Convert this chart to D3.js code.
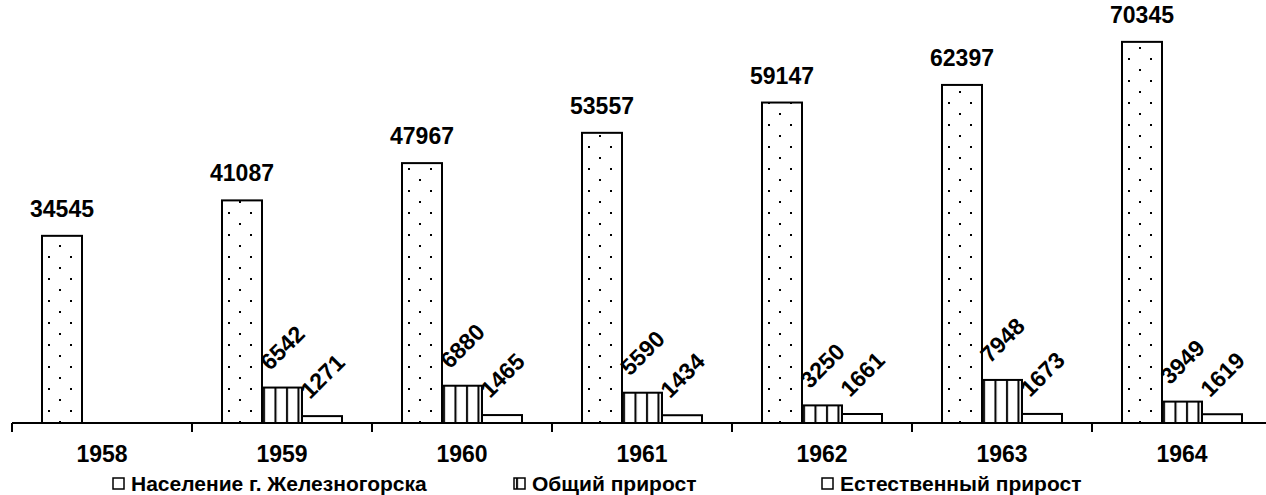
<!DOCTYPE html>
<html>
<head>
<meta charset="utf-8">
<script src="https://cdn.jsdelivr.net/npm/d3@7"></script>
<style>
  body { margin: 0; background: #fff; }
  text { font-family: "Liberation Sans", Arial, sans-serif; font-weight: bold; fill: #000; }
</style>
</head>
<body>
<div id="chartArea"></div>
<script>
// data setup
var years = ["1958", "1959", "1960", "1961", "1962", "1963", "1964"];
var population = [34545, 41087, 47967, 53557, 59147, 62397, 70345];
var totalGrowth = [null, 6542, 6880, 5590, 3250, 7948, 3949];
var naturalGrowth = [null, 1271, 1465, 1434, 1661, 1673, 1619];
var seriesNames = ["Население г. Железногорска", "Общий прирост", "Естественный прирост"];

var width = 1266, height = 495;
var baseY = 423;

var svg = d3.select("#chartArea").append("svg")
  .attr("width", width)
  .attr("height", height);

// patterns
var defs = svg.append("defs");
var dots = defs.append("pattern")
  .attr("id", "dots")
  .attr("patternUnits", "userSpaceOnUse")
  .attr("width", 22).attr("height", 22);
dots.append("rect").attr("width", 22).attr("height", 22).attr("fill", "#fff");
dots.append("rect").attr("x", 3).attr("y", 3).attr("width", 2).attr("height", 2).attr("fill", "#000");
dots.append("rect").attr("x", 14).attr("y", 14).attr("width", 2).attr("height", 2).attr("fill", "#000");

var vlines = defs.append("pattern")
  .attr("id", "vlines")
  .attr("patternUnits", "userSpaceOnUse")
  .attr("width", 11.5).attr("height", 10);
vlines.append("rect").attr("width", 11.5).attr("height", 10).attr("fill", "#fff");
vlines.append("rect").attr("x", 2).attr("width", 2).attr("height", 10).attr("fill", "#000");

var fills = ["url(#dots)", "url(#vlines)", "#fff"];

// scales
var x = d3.scaleBand().domain(years).range([12, 12 + 7 * 180]);
var xs = d3.scaleBand().domain([0, 1, 2]).range([30, 150]);
var y = d3.scaleLinear().domain([0, 80000]).range([baseY, baseY - 80000 * 0.005418]);

var rows = years.map(function(yr, i) {
  return { year: yr, vals: [population[i], totalGrowth[i], naturalGrowth[i]] };
});

var groups = svg.selectAll("g.cat")
  .data(rows)
  .enter().append("g")
  .attr("class", "cat")
  .attr("transform", function(d) { return "translate(" + x(d.year) + ",0)"; });

var bars = groups.selectAll("g.bar")
  .data(function(d) {
    return d.vals.map(function(v, k) { return { k: k, v: v }; }).filter(function(e) { return e.v != null; });
  })
  .enter().append("g").attr("class", "bar");

bars.append("rect")
  .attr("x", function(d) { return xs(d.k); })
  .attr("y", function(d) { return y(d.v); })
  .attr("width", xs.bandwidth())
  .attr("height", function(d) { return baseY - y(d.v); })
  .attr("fill", function(d) { return fills[d.k]; })
  .attr("stroke", "#000")
  .attr("stroke-width", 2);

// labels
bars.append("text")
  .attr("font-size", 23)
  .attr("text-anchor", function(d) { return d.k === 0 ? "middle" : "start"; })
  .attr("transform", function(d) {
    if (d.k === 0) {
      return "translate(" + (xs(d.k) + xs.bandwidth() / 2) + "," + (y(d.v) - 19) + ")";
    }
    return "translate(" + (xs(d.k) + 8) + "," + (y(d.v) - 16) + ") rotate(-45)";
  })
  .text(function(d) { return d.v; });

// x axis
var axis = svg.append("g").attr("transform", "translate(0," + baseY + ")");
axis.append("line")
  .attr("x1", 12).attr("x2", width)
  .attr("stroke", "#000").attr("stroke-width", 2);
axis.selectAll("line.tick")
  .data(years.concat(["end"]))
  .enter().append("line")
  .attr("class", "tick")
  .attr("x1", function(d, i) { return 12 + i * x.step(); })
  .attr("x2", function(d, i) { return 12 + i * x.step(); })
  .attr("y1", 0).attr("y2", 9)
  .attr("stroke", "#000").attr("stroke-width", 2);
axis.selectAll("text")
  .data(years)
  .enter().append("text")
  .attr("x", function(d) { return x(d) + x.bandwidth() / 2; })
  .attr("y", 39)
  .attr("text-anchor", "middle")
  .attr("font-size", 23)
  .text(function(d) { return d; });

// legend
var legendX = [113, 514, 822];
var legend = svg.selectAll("g.legend")
  .data(seriesNames)
  .enter().append("g")
  .attr("class", "legend")
  .attr("transform", function(d, i) { return "translate(" + legendX[i] + ",478)"; });
legend.append("rect")
  .attr("width", 11).attr("height", 11)
  .attr("fill", function(d, i) { return i === 1 ? "url(#vlines)" : "#fff"; })
  .attr("stroke", "#000").attr("stroke-width", 1.5);
legend.append("text")
  .attr("x", 18).attr("y", 13)
  .attr("font-size", 21)
  .text(function(d) { return d; });
</script>
</body>
</html>
